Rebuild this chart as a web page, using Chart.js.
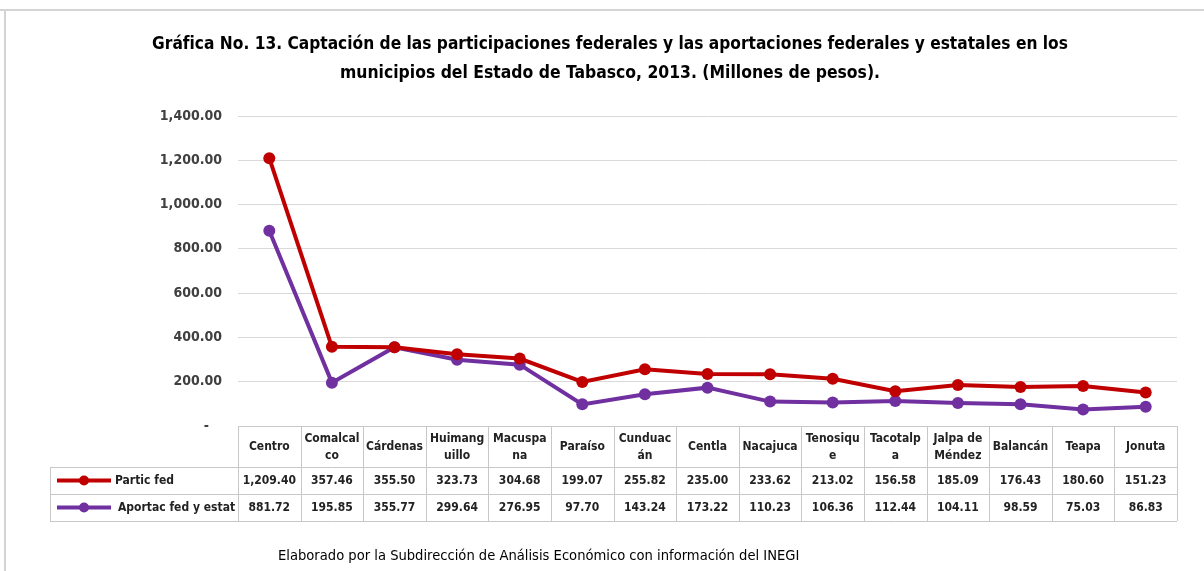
<!DOCTYPE html>
<html lang="es">
<head>
<meta charset="UTF-8">
<title>Gráfica No. 13</title>
<script src="https://cdn.jsdelivr.net/npm/chart.js"></script>
<style>
  body { margin: 0; background: #fff; }
  #wrap { width: 1204px; height: 571px; position: relative; }
</style>
</head>
<body>
<div id="wrap"><canvas id="chart" width="1204" height="571"></canvas></div>
<script>
// municipios (header labels wrapped as in the original table)
const municipios = [
  ['Centro'], ['Comalcal', 'co'], ['Cárdenas'], ['Huimang', 'uillo'], ['Macuspa', 'na'],
  ['Paraíso'], ['Cunduac', 'án'], ['Centla'], ['Nacajuca'], ['Tenosiqu', 'e'],
  ['Tacotalp', 'a'], ['Jalpa de', 'Méndez'], ['Balancán'], ['Teapa'], ['Jonuta']
];
const particFed = [1209.40, 357.46, 355.50, 323.73, 304.68, 199.07, 255.82, 235.00, 233.62, 213.02, 156.58, 185.09, 176.43, 180.60, 151.23];
const aportacFedEstat = [881.72, 195.85, 355.77, 299.64, 276.95, 97.70, 143.24, 173.22, 110.23, 106.36, 112.44, 104.11, 98.59, 75.03, 86.83];
const seriesNames = ['Partic fed', 'Aportac fed y estat'];
const seriesColors = ['#c00000', '#7030a0'];
const yMin = 0, yMax = 1400, yStep = 200;

const titleLines = [
  'Gráfica No. 13. Captación de las participaciones federales y las aportaciones federales y estatales en los',
  'municipios del Estado de Tabasco, 2013. (Millones de pesos).'
];
const sourceText = 'Elaborado por la Subdirección de Análisis Económico con información del INEGI';

const FONT = '"DejaVu Sans Condensed", Arial, sans-serif';
const fmt = v => v.toLocaleString('en-US', { minimumFractionDigits: 2, maximumFractionDigits: 2 });

// draws the frame, title, the data table and the source note
const extras = {
  id: 'extras',
  afterDraw(chart) {
    const ctx = chart.ctx;
    const area = chart.chartArea;
    const n = municipios.length;
    const colW = (area.right - area.left) / n;
    const top = area.bottom;
    const hdrBottom = top + 41;
    const r1Bottom = hdrBottom + 27;
    const r2Bottom = r1Bottom + 27;
    const legLeft = 50;

    ctx.save();
    // outer frame
    ctx.strokeStyle = '#d4d4d4';
    ctx.lineWidth = 2;
    ctx.beginPath();
    ctx.moveTo(0, 10); ctx.lineTo(1204, 10);
    ctx.moveTo(5, 10); ctx.lineTo(5, 571);
    ctx.stroke();

    // title
    ctx.fillStyle = '#000';
    ctx.textAlign = 'center';
    ctx.textBaseline = 'middle';
    ctx.font = 'bold 17.2px ' + FONT;
    ctx.fillText(titleLines[0], 610, 45);
    ctx.font = 'bold 17.4px ' + FONT;
    ctx.fillText(titleLines[1], 610, 73);

    // table grid
    ctx.strokeStyle = '#c8c8c8';
    ctx.lineWidth = 1;
    ctx.beginPath();
    ctx.moveTo(area.left, top + 0.5); ctx.lineTo(area.right, top + 0.5);
    [hdrBottom, r1Bottom, r2Bottom].forEach(y => {
      ctx.moveTo(legLeft, y + 0.5); ctx.lineTo(area.right, y + 0.5);
    });
    for (let i = 0; i <= n; i++) {
      const x = Math.round(area.left + i * colW) + 0.5;
      ctx.moveTo(x, top); ctx.lineTo(x, r2Bottom);
    }
    ctx.moveTo(legLeft + 0.5, hdrBottom); ctx.lineTo(legLeft + 0.5, r2Bottom);
    ctx.stroke();

    // header labels
    ctx.fillStyle = '#222';
    ctx.font = 'bold 12px ' + FONT;
    municipios.forEach((lbl, i) => {
      const cx = chart.scales.x.getPixelForValue(i);
      const cy = (top + hdrBottom) / 2;
      if (lbl.length === 1) {
        ctx.fillText(lbl[0], cx, cy);
      } else {
        ctx.fillText(lbl[0], cx, cy - 8);
        ctx.fillText(lbl[1], cx, cy + 9);
      }
    });

    // values and legend keys
    [particFed, aportacFedEstat].forEach((vals, s) => {
      const cy = s === 0 ? (hdrBottom + r1Bottom) / 2 : (r1Bottom + r2Bottom) / 2;
      ctx.font = 'bold 12px ' + FONT;
      ctx.fillStyle = '#222';
      ctx.textAlign = 'center';
      vals.forEach((v, i) => {
        ctx.fillText(fmt(v), chart.scales.x.getPixelForValue(i), cy);
      });
      ctx.strokeStyle = seriesColors[s];
      ctx.fillStyle = seriesColors[s];
      ctx.lineWidth = 4;
      ctx.beginPath();
      ctx.moveTo(57, cy); ctx.lineTo(111, cy);
      ctx.stroke();
      ctx.beginPath();
      ctx.arc(84, cy, 5, 0, Math.PI * 2);
      ctx.fill();
      ctx.fillStyle = '#222';
      ctx.textAlign = 'left';
      ctx.fillText(seriesNames[s], s === 0 ? 115 : 118, cy);
    });

    // source note
    ctx.font = '14.6px ' + FONT;
    ctx.fillStyle = '#000';
    ctx.textAlign = 'left';
    ctx.fillText(sourceText, 278, 556);
    ctx.restore();
  }
};

new Chart(document.getElementById('chart'), {
  type: 'line',
  data: {
    labels: municipios,
    datasets: [particFed, aportacFedEstat].map((d, s) => ({
      label: seriesNames[s],
      data: d,
      borderColor: seriesColors[s],
      backgroundColor: seriesColors[s],
      borderWidth: 4,
      pointRadius: 6,
      pointBorderWidth: 0,
      tension: 0
    }))
  },
  options: {
    responsive: false,
    animation: false,
    layout: { padding: { left: 138, right: 27, top: 116, bottom: 145 } },
    plugins: { legend: { display: false }, tooltip: { enabled: false } },
    scales: {
      x: { type: 'category', offset: true, display: false },
      y: {
        min: yMin, max: yMax,
        afterFit(s) { s.width = 100; },
        border: { display: false },
        grid: { color: '#d9d9d9', drawTicks: false },
        ticks: {
          stepSize: yStep,
          padding: 16,
          color: '#404040',
          font: { family: FONT, size: 14, weight: 'bold' },
          callback: v => v === 0 ? '-   ' : fmt(v)
        }
      }
    }
  },
  plugins: [extras]
});
</script>
</body>
</html>
